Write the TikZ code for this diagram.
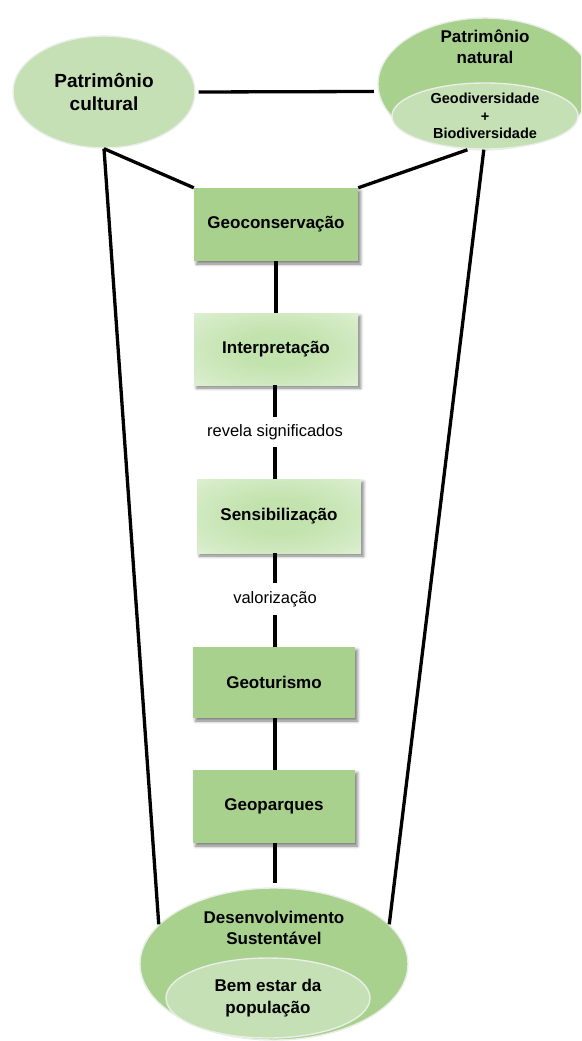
\documentclass[tikz,border=0pt]{standalone}
\usepackage{fontspec}
\setmainfont{Liberation Sans}
\usetikzlibrary{shapes.geometric,shadows,shadows.blur}

\definecolor{gdark}{HTML}{A9D18E}
\definecolor{glight}{HTML}{C5E0B4}
\definecolor{gcore}{HTML}{C3E3AE}
\definecolor{gedge}{HTML}{ECF6E6}
\definecolor{rimcol}{HTML}{E9EEE6}

% soft green glow for the lighter stage boxes
\pgfdeclareradialshading{boxglow}{\pgfpoint{0bp}{0bp}}{%
  color(0bp)=(gcore); color(12bp)=(gcore); color(30bp)=(gcore!55!gedge);
  color(45bp)=(gedge); color(50bp)=(gedge)}

\begin{document}
\begin{tikzpicture}[x=1pt,y=-1pt,
  conn/.style={line width=3.3pt, black},
  ell/.style={ellipse, inner sep=0pt, draw=rimcol, line width=1.4pt},
  boxbase/.style={rectangle, inner sep=0pt, minimum width=164, minimum height=73,
    font=\fontsize{17}{20}\selectfont\bfseries,
    blur shadow={shadow xshift=2.5pt, shadow yshift=-3pt, shadow blur radius=3pt, shadow opacity=50}},
  darkbox/.style={boxbase, fill=gdark},
  lightbox/.style={boxbase, shading=boxglow},
  linklabel/.style={inner sep=0pt, font=\fontsize{16.5}{19}\selectfont}
]
\useasboundingbox (0,0) rectangle (581,1041);
\clip (0,0) rectangle (581,1041);

% heritage ellipses
\node[ell, fill=glight, minimum width=182, minimum height=112,
      align=center, font=\fontsize{19}{22}\selectfont\bfseries] (cult) at (104,92) {Patrimônio\\cultural};

\node[ell, fill=gdark, minimum width=214, minimum height=132] (nat) at (485,84) {};
\node[align=center, inner sep=0pt, font=\fontsize{17}{21}\selectfont\bfseries] (natt) at (485,47) {Patrimônio\\natural};
\node[ell, fill=glight, minimum width=186, minimum height=66,
      align=center, font=\fontsize{14.5}{17.5}\selectfont\bfseries] (div) at (485,116) {Geodiversidade\\+\\Biodiversidade};

% chain of stages
\node[darkbox] (geoc) at (276,224.5) {Geoconservação};
\node[lightbox, minimum height=72] (interp) at (276,349) {Interpretação};
\node[linklabel, minimum height=30] (lab1) at (275,432) {revela significados};
\node[lightbox, minimum height=74] (sens) at (279,516) {Sensibilização};
\node[linklabel, minimum height=32] (lab2) at (275,599) {valorização};
\node[darkbox, minimum width=162, minimum height=71] (geot) at (274,682.5) {Geoturismo};
\node[darkbox, minimum width=162] (geop) at (274,806.5) {Geoparques};

% sustainable development
\node[ell, fill=gdark, minimum width=268, minimum height=152] (dev) at (274,964) {};
\node[align=center, inner sep=0pt, font=\fontsize{17}{21}\selectfont\bfseries] (devt) at (274,928) {Desenvolvimento\\Sustentável};
\node[ell, fill=glight, minimum width=204, minimum height=80,
      align=center, font=\fontsize{17}{22}\selectfont\bfseries] (pop) at (268,998) {Bem estar da\\população};

% connectors
\draw[conn, shorten <=3pt, shorten >=4pt] (cult.east) -- (nat.184);
\draw[conn] (cult.south) -- (geoc.north west);
\draw[conn] (cult.south) -- (dev.161);
\draw[conn] (nat.255) -- (geoc.north east);
\draw[conn] (div.268) -- (dev.19);
\draw[conn] (geoc.south -| 276,0) -- (interp.north -| 276,0);
\draw[conn] (interp.south -| lab1) -- (lab1.north);
\draw[conn] (lab1.south) -- (sens.north -| lab1);
\draw[conn] (sens.south -| lab2) -- (lab2.north);
\draw[conn] (lab2.south) -- (geot.north -| lab2);
\draw[conn] (geot.south -| 275,0) -- (geop.north -| 275,0);
\draw[conn, shorten >=4pt] (geop.south -| 275,0) -- (dev.north -| 275,0);
\end{tikzpicture}
\end{document}
